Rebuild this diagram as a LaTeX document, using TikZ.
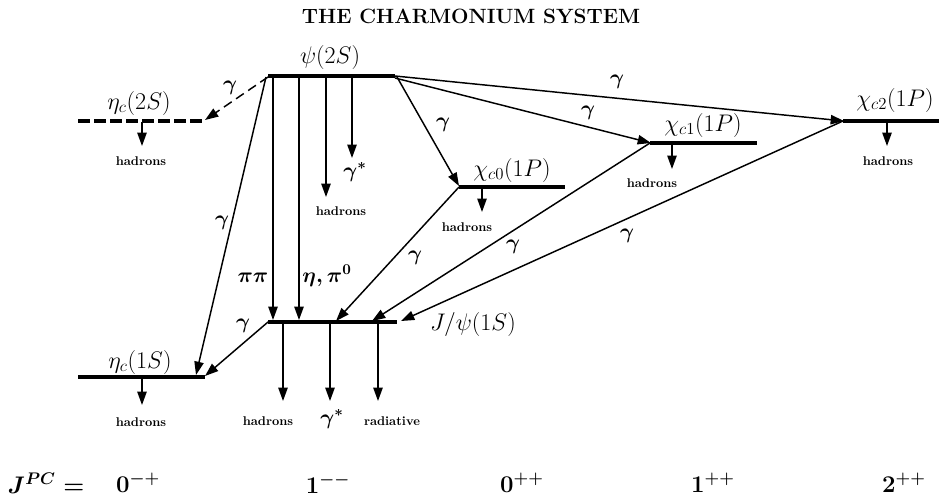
\RequirePackage{fix-cm}
\documentclass[tikz,border=0pt]{standalone}
\usetikzlibrary{arrows.meta}
\begin{document}
\begin{tikzpicture}[x=0.75pt,y=-0.75pt,
  lvl/.style={line width=3.3pt},
  lvldash/.style={line width=3.3pt,dash pattern=on 9pt off 3pt},
  tr/.style={line width=1.1pt,-{Triangle[length=10pt,width=7pt]}},
  trdash/.style={tr,dash pattern=on 7pt off 4pt},
  had/.style={font=\fontsize{9.5}{10}\selectfont\bfseries,inner sep=0pt},
  st/.style={font=\fontsize{18}{21}\selectfont,inner sep=0pt},
  gl/.style={font=\fontsize{16}{18}\selectfont\boldmath,inner sep=0pt},
  jl/.style={font=\fontsize{18}{20}\selectfont\boldmath,inner sep=0pt}]
\useasboundingbox (0,0) rectangle (939,500);

\node[font=\fontsize{15.5}{18}\selectfont\bfseries,inner sep=0pt] (title) at (471,16) {THE CHARMONIUM SYSTEM};

% level end points
\coordinate (psiL) at (268,76);  \coordinate (psiR) at (395,76);
\coordinate (et2L) at (78,121);  \coordinate (et2R) at (205,121);
\coordinate (c0L) at (459,187);  \coordinate (c0R) at (565,187);
\coordinate (c1L) at (650,143);  \coordinate (c1R) at (757,143);
\coordinate (c2L) at (843,121);  \coordinate (c2R) at (939,121);
\coordinate (jL) at (268,322);   \coordinate (jR) at (397,322);
\coordinate (et1L) at (78,377);  \coordinate (et1R) at (205,377);

\draw[lvl] (psiL) -- (psiR);
\draw[lvldash] (et2L) -- (et2R);
\draw[lvl] (c0L) -- (c0R);
\draw[lvl] (c1L) -- (c1R);
\draw[lvl] (c2L) -- (c2R);
\draw[lvl] (jL) -- (jR);
\draw[lvl] (et1L) -- (et1R);

% state labels
\node[st] (lpsi) at (330,57) {$\psi(2S)$};
\node[st] (let2) at (139,103) {$\eta_c(2S)$};
\node[st] (lc0) at (512,170) {$\chi_{c0}(1P)$};
\node[st] (lc1) at (703,125) {$\chi_{c1}(1P)$};
\node[st] (lc2) at (895,100) {$\chi_{c2}(1P)$};
\node[st] (lj) at (473,324) {$J/\psi(1S)$};
\node[st] (let1) at (140,362) {$\eta_c(1S)$};

% coordinates for transitions
\coordinate (a1s) at (268,77); \coordinate (a1e) at (205,120);
\coordinate (a2s) at (266,77); \coordinate (a2e) at (196,375);
\coordinate (a3s) at (273,77); \coordinate (a3e) at (273,320);
\coordinate (a4s) at (299,77); \coordinate (a4e) at (299,320);
\coordinate (a5s) at (326,77); \coordinate (a5e) at (326,197);
\coordinate (a6s) at (352,77); \coordinate (a6e) at (352,158);
\coordinate (a7s) at (397,77); \coordinate (a7e) at (459,186);
\coordinate (a8s) at (395,78); \coordinate (a8e) at (651,143);
\coordinate (a9s) at (395,76); \coordinate (a9e) at (844,121);
\coordinate (b1e) at (336,321);
\coordinate (b2e) at (372,321);
\coordinate (b3e) at (401,321);
\coordinate (b4s) at (268,322); \coordinate (b4e) at (205,376);

\draw[trdash] (a1s) -- (a1e);
\draw[tr] (a2s) -- (a2e);
\draw[tr] (a3s) -- (a3e);
\draw[tr] (a4s) -- (a4e);
\draw[tr] (a5s) -- (a5e);
\draw[tr] (a6s) -- (a6e);
\draw[tr] (a7s) -- (a7e);
\draw[tr] (a8s) -- (a8e);
\draw[tr] (a9s) -- (a9e);
\draw[tr] (c0L) -- (b1e);
\draw[tr] (c1L) -- (b2e);
\draw[tr] (c2L) -- (b3e);
\draw[tr] (b4s) -- (b4e);

% hadron decays
\coordinate (h1s) at (142,122); \coordinate (h1e) at (142,146);
\coordinate (h2s) at (142,378); \coordinate (h2e) at (142,405);
\coordinate (h3s) at (482,188); \coordinate (h3e) at (482,212);
\coordinate (h4s) at (672,144); \coordinate (h4e) at (672,169);
\coordinate (h5s) at (887,122); \coordinate (h5e) at (887,146);
\coordinate (j1s) at (283,323); \coordinate (j1e) at (283,401);
\coordinate (j2s) at (330,323); \coordinate (j2e) at (330,401);
\coordinate (j3s) at (378,323); \coordinate (j3e) at (378,401);
\draw[tr] (h1s) -- (h1e);
\draw[tr] (h2s) -- (h2e);
\draw[tr] (h3s) -- (h3e);
\draw[tr] (h4s) -- (h4e);
\draw[tr] (h5s) -- (h5e);
\draw[tr] (j1s) -- (j1e);
\draw[tr] (j2s) -- (j2e);
\draw[tr] (j3s) -- (j3e);

\node[had] (th1) at (141,161) {hadrons};
\node[had] (th2) at (141,422) {hadrons};
\node[had] (th3) at (467,227) {hadrons};
\node[had] (th4) at (652,183) {hadrons};
\node[had] (th5) at (888,161) {hadrons};
\node[had] (th6) at (341,211) {hadrons};
\node[had] (tj1) at (268,421) {hadrons};
\node[had] (tj3) at (392,421) {radiative};

% gamma labels
\node[gl] (g1) at (230,88) {$\gamma$};
\node[gl] (g2) at (222,223) {$\gamma$};
\node[gl] (g3) at (443,125) {$\gamma$};
\node[gl] (g4) at (588,113) {$\gamma$};
\node[gl] (g5) at (617,82) {$\gamma$};
\node[gl] (g6) at (415,258) {$\gamma$};
\node[gl] (g7) at (513,247) {$\gamma$};
\node[gl] (g8) at (627,236) {$\gamma$};
\node[gl] (g9) at (243,326) {$\gamma$};
\node[gl] (g10) at (355,172) {$\gamma^*$};
\node[gl] (g11) at (332,419) {$\gamma^*$};
\node[gl] (pp) at (253,278) {$\pi\pi$};
\node[gl] (ep) at (327,276) {$\eta,\pi^0$};

% quantum numbers
\node[jl] (jpc) at (46,483) {$J^{PC}=$};
\node[jl] (q1) at (138,483) {$0^{-+}$};
\node[jl] (q2) at (328,484) {$1^{--}$};
\node[jl] (q3) at (522,483) {$0^{++}$};
\node[jl] (q4) at (713,483) {$1^{++}$};
\node[jl] (q5) at (904,483) {$2^{++}$};
\end{tikzpicture}
\end{document}
